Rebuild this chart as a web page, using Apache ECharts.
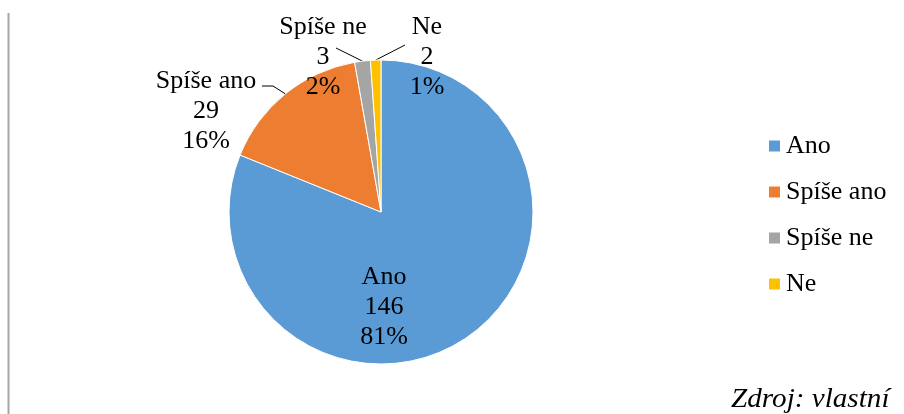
<!DOCTYPE html>
<html>
<head>
<meta charset="utf-8">
<style>
  html, body { margin: 0; padding: 0; background: #fff; }
  #chart { width: 904px; height: 414px; }
</style>
<script src="https://cdn.jsdelivr.net/npm/echarts@6/dist/echarts.min.js"></script>
</head>
<body>
<div id="chart"></div>
<script>
// Answers and their counts
const categories = ['Ano', 'Spíše ano', 'Spíše ne', 'Ne'];
const counts = [146, 29, 3, 2];
const colors = ['#5B9BD5', '#ED7D31', '#A5A5A5', '#FFC000'];
const sourceNote = 'Zdroj: vlastní';

const FONT = '"Liberation Serif", "Times New Roman", serif';
const CENTER = [381, 212];
const RADIUS = 152;

// Centre of each data label block
const labelSpots = [
  { x: 384, y: 307 },
  { x: 206, y: 111 },
  { x: 323, y: 57 },
  { x: 427, y: 57 }
];
// Leader line start (near the label) and optional elbow; null = no line
const leaderStarts = [
  null,
  [[262, 86], [273, 86]],
  [[336, 48]],
  [[405, 45]]
];

// Point on the pie rim at the middle angle of slice i (clockwise from 12 o'clock)
function rimPoint(i) {
  const total = counts.reduce((a, b) => a + b, 0);
  let before = 0;
  for (let k = 0; k < i; k++) before += counts[k];
  const mid = (before + counts[i] / 2) / total * Math.PI * 2;
  return [CENTER[0] + RADIUS * Math.sin(mid), CENTER[1] - RADIUS * Math.cos(mid)];
}

const chart = echarts.init(document.getElementById('chart'), null, { renderer: 'canvas' });

const seriesData = categories.map((name, i) => ({
  name: name,
  value: counts[i],
  itemStyle: { color: colors[i] },
  labelLine: { show: leaderStarts[i] !== null }
}));

chart.setOption({
  animation: false,
  backgroundColor: '#ffffff',
  graphic: [
    {
      type: 'line',
      shape: { x1: 8.5, y1: 13, x2: 8.5, y2: 414 },
      style: { stroke: '#A6A6A6', lineWidth: 2 }
    },
    {
      type: 'text',
      x: 731,
      y: 400,
      scaleX: 1.08,
      style: {
        text: sourceNote,
        font: 'italic 27px ' + FONT,
        fill: '#000000',
        verticalAlign: 'middle',
        align: 'left'
      }
    }
  ],
  legend: {
    orient: 'vertical',
    left: 767,
    top: 133,
    padding: 0,
    icon: 'rect',
    itemWidth: 13,
    itemHeight: 13,
    itemGap: 20,
    data: categories,
    textStyle: {
      fontFamily: FONT,
      fontSize: 26,
      lineHeight: 26,
      color: '#000000'
    }
  },
  series: [
    {
      type: 'pie',
      center: CENTER,
      radius: RADIUS,
      startAngle: 90,
      clockwise: true,
      avoidLabelOverlap: false,
      itemStyle: { borderColor: '#ffffff', borderWidth: 1 },
      label: {
        show: true,
        position: 'outside',
        fontFamily: FONT,
        fontSize: 26,
        lineHeight: 30,
        color: '#000000',
        align: 'center',
        formatter: p => p.name + '\n' + p.value + '\n' + Math.round(p.percent) + '%'
      },
      labelLine: {
        show: true,
        length: 10,
        length2: 10,
        lineStyle: { color: '#000000', width: 1 }
      },
      labelLayout: params => {
        const i = params.dataIndex;
        const spot = labelSpots[i];
        const out = {
          x: spot.x,
          y: spot.y,
          align: 'center',
          verticalAlign: 'middle'
        };
        if (leaderStarts[i]) {
          const pts = leaderStarts[i].slice();
          pts.push(rimPoint(i));
          while (pts.length < 3) pts.splice(1, 0, pts[0]);
          out.labelLinePoints = pts;
        }
        return out;
      },
      emphasis: { disabled: true },
      data: seriesData
    }
  ]
});
</script>
</body>
</html>
